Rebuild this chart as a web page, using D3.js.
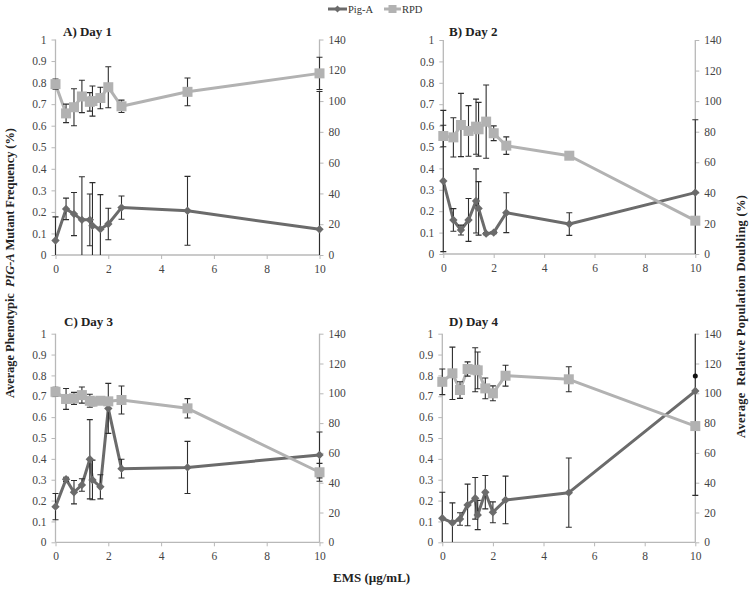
<!DOCTYPE html>
<html><head><meta charset="utf-8">
<script src="https://cdn.jsdelivr.net/npm/d3@7"></script>
<style>body{margin:0;background:#fff}text{font-family:"Liberation Serif","Times New Roman",serif}</style>
</head><body><svg id="c" width="752" height="590"></svg>
<script>
// ---- data ----
const doses = [0, 0.4, 0.7, 1, 1.3, 1.4, 1.7, 2, 2.5, 5, 10];
const panelTitles = ["A) Day 1", "B) Day 2", "C) Day 3", "D) Day 4"];
const leftTicks = [0, 0.1, 0.2, 0.3, 0.4, 0.5, 0.6, 0.7, 0.8, 0.9, 1];
const rightTicks = [0, 20, 40, 60, 80, 100, 120, 140];
const xTicks = [0, 2, 4, 6, 8, 10];

const pigA1    = [0.067, 0.214, 0.19, 0.163, 0.163, 0.136, 0.12, 0.144, 0.22, 0.205, 0.119];
const pigA1Err = [0.11, 0.05, 0.1, 0.2, 0.12, 0.2, 0.16, 0.073, 0.054, 0.16, 0.64];
const rpd1     = [111, 92, 96, 103, 99.5, 100, 102, 109, 96.6, 106, 118];
const rpd1Err  = [3.3, 6, 12, 10.5, 6, 9.8, 7, 13.3, 4, 9, 10.5];

const pigA2    = [0.341, 0.159, 0.112, 0.159, 0.248, 0.213, 0.095, 0.1, 0.193, 0.14, 0.287];
const pigA2Err = [0.33, 0.053, 0.023, 0.1, 0.15, 0.125, 0.005, 0.005, 0.093, 0.053, 0.34];
const rpd2     = [77.2, 76.3, 84.4, 80.5, 83.3, 81.6, 86.6, 79, 70.9, 64.3, 21.8];
const rpd2Err  = [7, 12.8, 20.7, 16.6, 18, 17.6, 24, 4.8, 5.7, 2, 0.5];

const pigA3    = [0.171, 0.302, 0.24, 0.275, 0.398, 0.299, 0.266, 0.642, 0.353, 0.359, 0.419];
const pigA3Err = [0.063, 0.01, 0.056, 0.03, 0.19, 0.095, 0.058, 0.12, 0.045, 0.125, 0.11];
const rpd3     = [101, 96.2, 96.6, 98.8, 95, 94.4, 95, 94.6, 95.5, 89.9, 47];
const rpd3Err  = [3, 7, 4, 5.4, 4.4, 2.8, 2, 1.5, 9.4, 6.5, 6];

const pigA4    = [0.115, 0.094, 0.112, 0.179, 0.211, 0.131, 0.24, 0.144, 0.203, 0.238, 0.725];
const pigA4Err = [0.125, 0.095, 0.03, 0.1, 0.1, 0.07, 0.08, 0.05, 0.114, 0.166, 0.5];
const rpd4     = [107.7, 113.4, 102.2, 116.3, 115.8, 115.4, 103.3, 100, 111.8, 109.4, 78];
const rpd4Err  = [8.6, 17.6, 5.6, 4.8, 14.8, 12.3, 7, 5, 7, 8.4, 0.5];

const extraDot = [{panel: 3, x: 10, y: 0.797}];

const seriesPig = [pigA1, pigA2, pigA3, pigA4];
const seriesPigErr = [pigA1Err, pigA2Err, pigA3Err, pigA4Err];
const seriesRpd = [rpd1, rpd2, rpd3, rpd4];
const seriesRpdErr = [rpd1Err, rpd2Err, rpd3Err, rpd4Err];

// ---- layout ----
const boxes = [
  {l: 55.5, r: 319.5, t: 39.5, b: 255},
  {l: 443.3, r: 695.3, t: 40, b: 254},
  {l: 55.5, r: 319.5, t: 333.7, b: 542.3},
  {l: 442.3, r: 695.3, t: 333.7, b: 542.3}
];
const titlePos = [[63, 36], [449, 36], [64, 326], [449, 326]];
const PIG = "#6b6b6b", RPD = "#b2b2b2", ERR = "#2e2e2e", AX = "#b8b8b8";

const svg = d3.select("#c");

boxes.forEach((bx, i) => {
  const x = d3.scaleLinear().domain([0, 10]).range([bx.l, bx.r]);
  const yL = d3.scaleLinear().domain([0, 1]).range([bx.b, bx.t]);
  const yR = d3.scaleLinear().domain([0, 140]).range([bx.b, bx.t]);
  const g = svg.append("g");

  const ax = g.append("g").attr("transform", `translate(0,${bx.b})`)
    .call(d3.axisBottom(x).tickValues(xTicks).tickFormat(d3.format("d")).tickSize(4).tickPadding(6));
  const ayl = g.append("g").attr("transform", `translate(${bx.l},0)`)
    .call(d3.axisLeft(yL).tickValues(leftTicks).tickFormat(d => d === 0 ? "0" : d === 1 ? "1" : d3.format(".1f")(d)).tickSize(4).tickPadding(5));
  const ayr = g.append("g").attr("transform", `translate(${bx.r},0)`)
    .call(d3.axisRight(yR).tickValues(rightTicks).tickSize(4).tickPadding(5));
  [ax, ayl, ayr].forEach(a => {
    a.select(".domain").attr("stroke", AX).attr("stroke-width", 1.3);
    a.selectAll(".tick line").attr("stroke", AX);
    a.selectAll(".tick text").attr("fill", "#444").style("font-size", "11.5px").style("font-family", "'Liberation Serif',serif");
  });
  ax.select(".domain").attr("d", `M${bx.l},0H${bx.r}`);
  ayl.select(".domain").attr("d", `M0,${bx.b}V${bx.t}`);
  ayr.select(".domain").attr("d", `M0,${bx.b}V${bx.t}`);

  const cid = "clip" + i;
  svg.append("clipPath").attr("id", cid).append("rect")
    .attr("x", bx.l - 8).attr("y", bx.t - 2).attr("width", bx.r - bx.l + 16).attr("height", bx.b - bx.t + 2);
  const pg = g.append("g").attr("clip-path", `url(#${cid})`);

  const pig = seriesPig[i], pigE = seriesPigErr[i], rpd = seriesRpd[i], rpdE = seriesRpdErr[i];
  const cap = 3;

  function errBars(vals, errs, ys) {
    const eg = pg.append("g").attr("stroke", ERR).attr("stroke-width", 1.1).attr("fill", "none");
    vals.forEach((v, k) => {
      const e = errs[k];
      if (!e) return;
      const hi = v + e, lo = v - e;
      const yh = ys(Math.min(hi, ys.domain()[1])), yl = ys(Math.max(lo, 0));
      const cx = x(doses[k]);
      let d = `M${cx},${yh}V${yl}`;
      if (hi <= ys.domain()[1]) d += `M${cx - cap},${ys(hi)}H${cx + cap}`;
      if (lo >= 0) d += `M${cx - cap},${ys(lo)}H${cx + cap}`;
      eg.append("path").attr("d", d);
    });
  }

  const linePig = d3.line().x((d, k) => x(doses[k])).y(d => yL(d));
  pg.append("path").datum(pig).attr("d", linePig).attr("fill", "none").attr("stroke", PIG).attr("stroke-width", 3).attr("stroke-linejoin", "round");
  errBars(pig, pigE, yL);
  pg.selectAll(".dia").data(pig).enter().append("path")
    .attr("d", d3.symbol().type(d3.symbolDiamond2).size(45))
    .attr("transform", (d, k) => `translate(${x(doses[k])},${yL(d)})`)
    .attr("fill", PIG);

  const lineRpd = d3.line().x((d, k) => x(doses[k])).y(d => yR(d));
  pg.append("path").datum(rpd).attr("d", lineRpd).attr("fill", "none").attr("stroke", RPD).attr("stroke-width", 3).attr("stroke-linejoin", "round");
  errBars(rpd, rpdE, yR);
  pg.selectAll(".sq").data(rpd).enter().append("rect")
    .attr("x", (d, k) => x(doses[k]) - 5).attr("y", d => yR(d) - 5)
    .attr("width", 10).attr("height", 10).attr("fill", RPD);

  extraDot.filter(p => p.panel === i).forEach(p => {
    g.append("circle").attr("cx", x(p.x)).attr("cy", yL(p.y)).attr("r", 2.5).attr("fill", "#111");
  });

  svg.append("text").attr("x", titlePos[i][0]).attr("y", titlePos[i][1])
    .attr("font-weight", "bold").style("font-size", "13px").attr("fill", "#222").text(panelTitles[i]);
});

// legend
const lg = svg.append("g");
lg.append("line").attr("x1", 328).attr("x2", 347).attr("y1", 9).attr("y2", 9).attr("stroke", PIG).attr("stroke-width", 3);
lg.append("path").attr("d", d3.symbol().type(d3.symbolDiamond2).size(30)).attr("transform", "translate(337.5,9)").attr("fill", PIG);
lg.append("text").attr("x", 348).attr("y", 12.5).style("font-size", "10.5px").attr("fill", "#333").text("Pig-A");
lg.append("line").attr("x1", 384).attr("x2", 401).attr("y1", 9).attr("y2", 9).attr("stroke", RPD).attr("stroke-width", 3);
lg.append("rect").attr("x", 388.5).attr("y", 5).attr("width", 8).attr("height", 8).attr("fill", RPD);
lg.append("text").attr("x", 402).attr("y", 12.5).style("font-size", "10.5px").attr("fill", "#333").text("RPD");

// axis titles
const lt = svg.append("text").attr("transform", "translate(14,263) rotate(-90)")
  .attr("text-anchor", "middle").attr("font-weight", "bold").style("font-size", "12.5px").attr("fill", "#222")
  .attr("textLength", 270).attr("lengthAdjust", "spacing");
lt.append("tspan").text("Average Phenotypic\u00a0\u00a0");
lt.append("tspan").attr("font-style", "italic").text("PIG-A");
lt.append("tspan").text(" Mutant Frequency (%)");

svg.append("text").attr("transform", "translate(745,316.5) rotate(-90)")
  .attr("text-anchor", "middle").attr("font-weight", "bold").style("font-size", "12.5px").attr("fill", "#222")
  .attr("textLength", 243).attr("lengthAdjust", "spacing")
  .text("Average\u00a0\u00a0Relative Population Doubling (%)");

svg.append("text").attr("x", 333).attr("y", 582).attr("text-anchor", "start")
  .attr("font-weight", "bold").style("font-size", "13px").attr("fill", "#222").text("EMS (µg/mL)");
</script></body></html>
